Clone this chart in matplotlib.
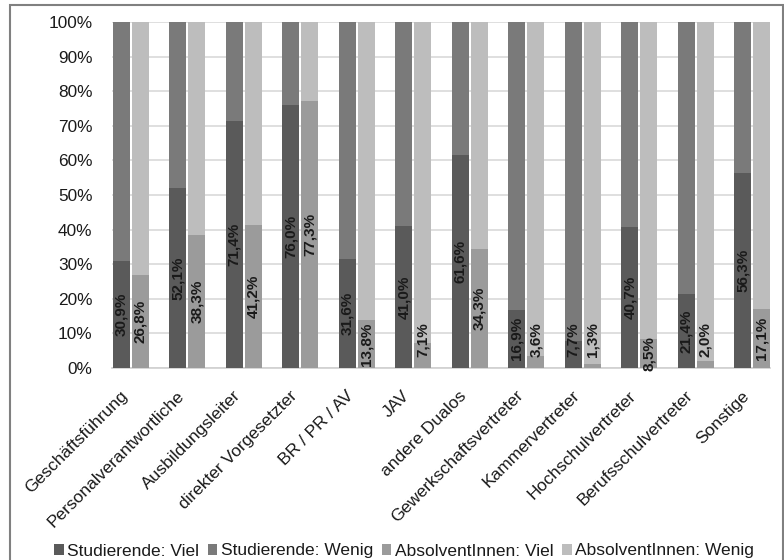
import numpy as np
import matplotlib.pyplot as plt
from matplotlib.patches import Rectangle
from matplotlib.ticker import FuncFormatter

# Anteile in Prozent je Ansprechpartner
categories = ['Geschäftsführung', 'Personalverantwortliche', 'Ausbildungsleiter',
              'direkter Vorgesetzter', 'BR / PR / AV', 'JAV', 'andere Dualos',
              'Gewerkschaftsvertreter', 'Kammervertreter', 'Hochschulvertreter',
              'Berufsschulvertreter', 'Sonstige']
stud_viel = [30.9, 52.1, 71.4, 76.0, 31.6, 41.0, 61.6, 16.9, 7.7, 40.7, 21.4, 56.3]
stud_wenig = [69.1, 47.9, 28.6, 24.0, 68.4, 59.0, 38.4, 83.1, 92.3, 59.3, 78.6, 43.7]
abs_viel = [26.8, 38.3, 41.2, 77.3, 13.8, 7.1, 34.3, 3.6, 1.3, 8.5, 2.0, 17.1]
abs_wenig = [73.2, 61.7, 58.8, 22.7, 86.2, 92.9, 65.7, 96.4, 98.7, 91.5, 98.0, 82.9]

FONT = 'Liberation Sans'
plt.rcParams['font.family'] = [FONT, 'DejaVu Sans']

C_SV = '#5a5a5a'
C_SW = '#7a7a7a'
C_AV = '#9b9b9b'
C_AW = '#bdbdbd'
TXT = '#1a1a1a'

fig = plt.figure(figsize=(7.84, 5.6), dpi=100)
ax = fig.add_axes([112 / 784, 1 - 368 / 560, (770 - 112) / 784, (368 - 22) / 560])

x = np.arange(len(categories))
w = 0.30
off = 0.168

ax.bar(x - off, stud_viel, w, color=C_SV, label='Studierende: Viel', zorder=3)
ax.bar(x - off, stud_wenig, w, bottom=stud_viel, color=C_SW, label='Studierende: Wenig', zorder=3)
ax.bar(x + off, abs_viel, w, color=C_AV, label='AbsolventInnen: Viel', zorder=3)
ax.bar(x + off, abs_wenig, w, bottom=abs_viel, color=C_AW, label='AbsolventInnen: Wenig', zorder=3)

# Wertelabels in den "Viel"-Segmenten, kleine Werte etwas angehoben
def label_pos(v):
    return v / 2 if v >= 8 else 8.1

for xs, vals in ((x - off, stud_viel), (x + off, abs_viel)):
    for xi, v in zip(xs, vals):
        ax.text(xi, label_pos(v), f'{v:.1f}%'.replace('.', ','), rotation=90,
                ha='center', va='center', fontsize=11, fontweight='bold',
                color=TXT, zorder=4)

ax.set_xlim(-0.333, 11.313)
ax.set_ylim(0, 100)
ax.set_yticks(np.arange(0, 101, 10))
ax.yaxis.set_major_formatter(FuncFormatter(lambda v, p: f'{int(v)}%'))
ax.grid(axis='y', color='#d9d9d9', linewidth=1.2, zorder=0)
ax.set_axisbelow(True)

# Kategorienbeschriftung schräg unter den Balkenpaaren
ax.set_xticks(x)
ax.set_xticklabels([])
for xi, cat in zip(x, categories):
    ax.annotate(cat, xy=(xi, 0), xycoords=('data', 'axes fraction'),
                xytext=(-11, -20), textcoords='offset pixels',
                rotation=45, rotation_mode='anchor', ha='right', va='top',
                fontsize=12.5, color=TXT, annotation_clip=False)

ax.tick_params(axis='both', length=0)
ax.tick_params(axis='y', labelsize=12.4, pad=14, labelcolor=TXT)

for side in ['top', 'right', 'left']:
    ax.spines[side].set_visible(False)
ax.spines['bottom'].set_color('#d0d0d0')
ax.spines['bottom'].set_linewidth(1.2)

handles, labels = ax.get_legend_handles_labels()
fig.legend(handles, labels, loc='center', bbox_to_anchor=(404 / 784, 1 - 551 / 560),
           ncol=4, frameon=False, fontsize=12.5, handlelength=0.55, handleheight=0.55,
           handletextpad=0.2, columnspacing=0.5, borderaxespad=0, labelcolor=TXT)

# Rahmen um die Grafik
fig.patches.append(Rectangle((10 / 784, -0.02), (783 - 10) / 784, 1 - 5 / 560 + 0.02,
                             transform=fig.transFigure, fill=False,
                             edgecolor='#808080', linewidth=1.5))

fig.savefig('out.png', dpi=100)
